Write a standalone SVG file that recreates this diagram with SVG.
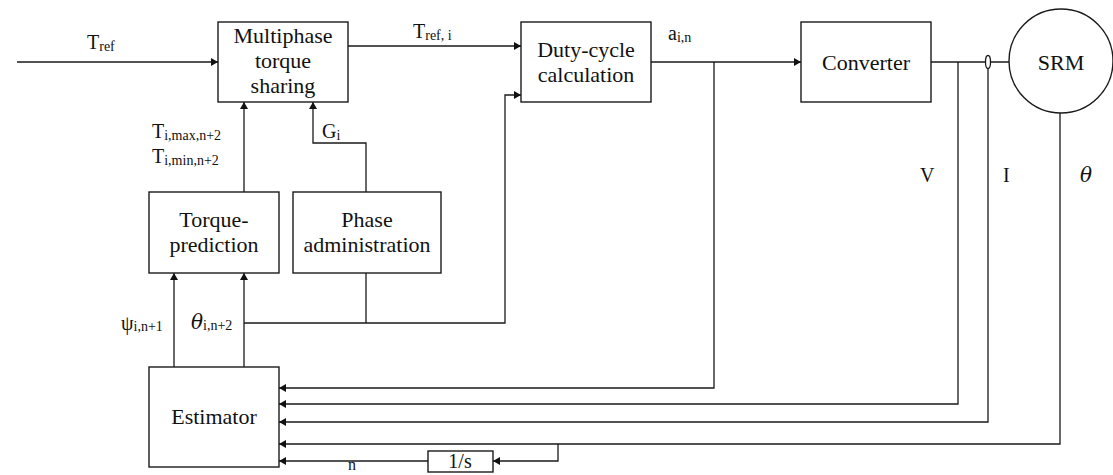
<svg xmlns="http://www.w3.org/2000/svg" width="1113" height="475" viewBox="0 0 1113 475">
<style>
.box{fill:#fff;stroke:#1a1a1a;stroke-width:1.4}
.ln{fill:none;stroke:#1a1a1a;stroke-width:1.3}
.t{font-family:"Liberation Serif","Times New Roman",serif;font-size:22px;fill:#111;text-anchor:middle}
.l{font-family:"Liberation Serif","Times New Roman",serif;font-size:20px;fill:#111}
.s{font-size:14px}
.th{font-family:"DejaVu Serif","Liberation Serif",serif;font-style:italic}
</style>
<defs>
<marker id="ar" markerWidth="8" markerHeight="8" refX="7" refY="4" orient="auto" markerUnits="userSpaceOnUse">
<path d="M0,0 L7,4 L0,8 Z" fill="#111"/>
</marker>
</defs>
<rect width="1113" height="475" fill="#fff"/>
<g id="connectors">
<path class="ln" d="M17,62 H218" marker-end="url(#ar)"/>
<path class="ln" d="M348,46 H521" marker-end="url(#ar)"/>
<path class="ln" d="M651,62 H801" marker-end="url(#ar)"/>
<path class="ln" d="M931,62 H1009"/>
<path class="ln" d="M714,62 V388 H279" marker-end="url(#ar)"/>
<path class="ln" d="M958,62 V404 H279" marker-end="url(#ar)"/>
<path class="ln" d="M988,62 V422 H279" marker-end="url(#ar)"/>
<ellipse cx="988" cy="62" rx="2.5" ry="6.5" fill="#fff" stroke="#1a1a1a" stroke-width="1.3"/>
<path class="ln" d="M1060,113 V444 H279" marker-end="url(#ar)"/>
<path class="ln" d="M558,444 V461 H493" marker-end="url(#ar)"/>
<path class="ln" d="M428,461 H279" marker-end="url(#ar)"/>
<path class="ln" d="M174,367 V273" marker-end="url(#ar)"/>
<path class="ln" d="M244,367 V273" marker-end="url(#ar)"/>
<path class="ln" d="M244,323 H505 V95 H521" marker-end="url(#ar)"/>
<path class="ln" d="M366,273 V323"/>
<path class="ln" d="M244,192 V102" marker-end="url(#ar)"/>
<path class="ln" d="M366,192 V143 H313 V102" marker-end="url(#ar)"/>
</g>
<g id="mts">
<rect class="box" x="218" y="22" width="130" height="80"/>
<text class="t" x="283" y="43">Multiphase</text>
<text class="t" x="283" y="68">torque</text>
<text class="t" x="283" y="93">sharing</text>
</g>
<g id="duty">
<rect class="box" x="521" y="22" width="130" height="80"/>
<text class="t" x="586" y="57">Duty-cycle</text>
<text class="t" x="586" y="82">calculation</text>
</g>
<g id="converter">
<rect class="box" x="801" y="22" width="130" height="80"/>
<text class="t" x="866" y="70">Converter</text>
</g>
<g id="srm">
<circle class="box" cx="1061" cy="61" r="52"/>
<text class="t" x="1061" y="70">SRM</text>
</g>
<g id="torquepred">
<rect class="box" x="149" y="192" width="130" height="81"/>
<text class="t" x="214" y="227">Torque-</text>
<text class="t" x="214" y="252">prediction</text>
</g>
<g id="phaseadmin">
<rect class="box" x="293" y="192" width="148" height="81"/>
<text class="t" x="367" y="227">Phase</text>
<text class="t" x="367" y="252">administration</text>
</g>
<g id="estimator">
<rect class="box" x="149" y="367" width="130" height="100"/>
<text class="t" x="214" y="424">Estimator</text>
</g>
<g id="integrator">
<rect class="box" x="428" y="451" width="65" height="21"/>
<text class="t" x="460" y="468" style="font-size:20px">1/s</text>
</g>
<g id="labels">
<text class="l" x="87" y="49">T<tspan class="s" dy="2">ref</tspan></text>
<text class="l" x="413" y="38">T<tspan class="s" dy="2">ref, i</tspan></text>
<text class="l" x="668" y="40">a<tspan class="s" dy="2">i,n</tspan></text>
<text class="l" x="152" y="138">T<tspan class="s" dy="2">i,max,n+2</tspan></text>
<text class="l" x="152" y="163">T<tspan class="s" dy="2">i,min,n+2</tspan></text>
<text class="l" x="322" y="138">G<tspan class="s" dy="2">i</tspan></text>
<text class="l" x="121" y="330">ψ<tspan class="s" dy="1">i,n+1</tspan></text>
<text class="l" x="191" y="329"><tspan class="th">θ</tspan><tspan class="s" dy="1">i,n+2</tspan></text>
<text class="l" x="920" y="182">V</text>
<text class="l" x="1003" y="182">I</text>
<text class="l th" x="1080" y="182">θ</text>
<text class="l" x="348" y="470" style="font-size:16px">n</text>
</g>
</svg>
